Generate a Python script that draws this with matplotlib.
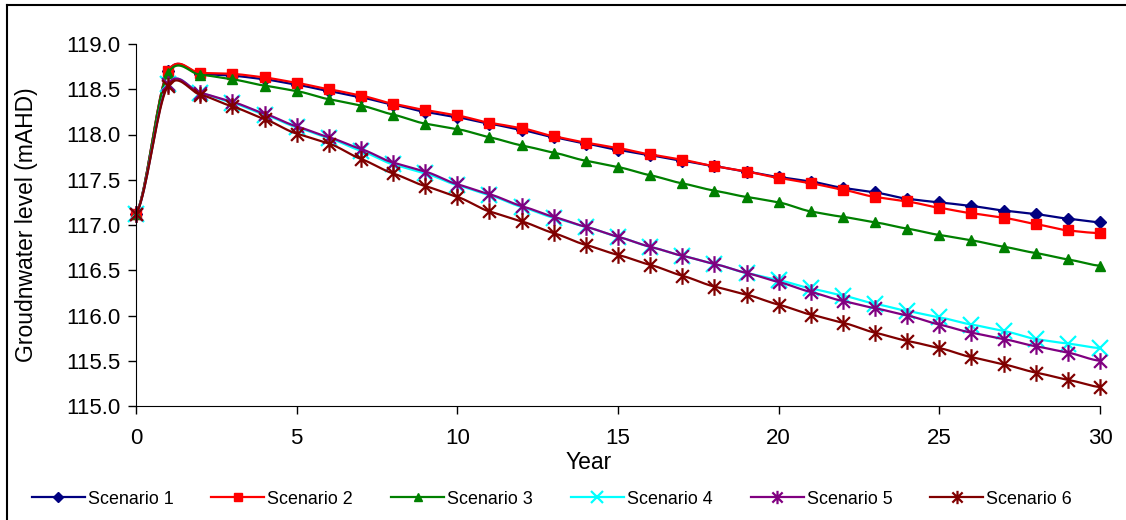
import matplotlib
matplotlib.use('Agg')
import matplotlib.pyplot as plt
import numpy as np
from matplotlib.path import Path
from matplotlib.lines import Line2D

plt.rcParams['font.family'] = ['Liberation Sans', 'DejaVu Sans']

years = list(range(0, 31))

scen1 = [117.12, 118.70, 118.67, 118.65, 118.61, 118.55, 118.48, 118.41, 118.33, 118.25, 118.19,
         118.12, 118.05, 117.97, 117.90, 117.83, 117.77, 117.71, 117.65, 117.59, 117.53,
         117.48, 117.41, 117.36, 117.29, 117.25, 117.21, 117.16, 117.12, 117.07, 117.03]
scen2 = [117.12, 118.70, 118.68, 118.67, 118.63, 118.57, 118.50, 118.43, 118.34, 118.27, 118.21,
         118.13, 118.07, 117.98, 117.91, 117.85, 117.78, 117.72, 117.65, 117.59, 117.52,
         117.46, 117.39, 117.31, 117.26, 117.19, 117.13, 117.08, 117.01, 116.94, 116.91]
scen3 = [117.12, 118.68, 118.66, 118.61, 118.54, 118.48, 118.39, 118.32, 118.22, 118.12, 118.06,
         117.97, 117.88, 117.80, 117.71, 117.64, 117.55, 117.46, 117.38, 117.31, 117.25,
         117.15, 117.09, 117.03, 116.96, 116.89, 116.83, 116.76, 116.69, 116.62, 116.55]
scen4 = [117.12, 118.56, 118.46, 118.35, 118.22, 118.08, 117.96, 117.82, 117.67, 117.57, 117.44,
         117.33, 117.20, 117.08, 116.98, 116.87, 116.76, 116.66, 116.57, 116.47, 116.39,
         116.30, 116.22, 116.13, 116.05, 115.98, 115.90, 115.83, 115.74, 115.69, 115.64]
scen5 = [117.12, 118.56, 118.46, 118.36, 118.23, 118.09, 117.97, 117.84, 117.69, 117.59, 117.45,
         117.34, 117.21, 117.09, 116.98, 116.87, 116.76, 116.66, 116.57, 116.47, 116.37,
         116.26, 116.16, 116.08, 116.00, 115.90, 115.81, 115.74, 115.66, 115.59, 115.50]
scen6 = [117.12, 118.54, 118.44, 118.31, 118.17, 118.01, 117.90, 117.73, 117.57, 117.43, 117.31,
         117.15, 117.04, 116.91, 116.78, 116.67, 116.56, 116.44, 116.32, 116.23, 116.12,
         116.01, 115.92, 115.81, 115.72, 115.64, 115.54, 115.46, 115.37, 115.29, 115.21]

labels = ['Scenario 1', 'Scenario 2', 'Scenario 3', 'Scenario 4', 'Scenario 5', 'Scenario 6']
colors = ['#000080', '#FF0000', '#008000', '#00FFFF', '#800080', '#800000']

# excel style star: an x with a vertical bar through it
star = Path([(-1, -1), (1, 1), (-1, 1), (1, -1), (0, -1.3), (0, 1.3)],
            [Path.MOVETO, Path.LINETO, Path.MOVETO, Path.LINETO, Path.MOVETO, Path.LINETO])
markers = ['D', 's', '^', 'x', star, star]
msizes = [6, 6.5, 7.5, 11, 12, 12]

N = 20  # samples per segment for the smoothed line


def smooth(x, y, n=N):
    # catmull-rom like excel's "smoothed line"
    x = np.asarray(x, float)
    y = np.asarray(y, float)
    xs, ys = [], []
    for i in range(len(x) - 1):
        p0 = y[i - 1] if i > 0 else y[i]
        p3 = y[i + 2] if i + 2 < len(y) else y[i + 1]
        m1 = (y[i + 1] - p0) / 2 * 0.75
        m2 = (p3 - y[i]) / 2 * 0.75
        t = np.linspace(0, 1, n, endpoint=False)
        h00 = 2 * t**3 - 3 * t**2 + 1
        h10 = t**3 - 2 * t**2 + t
        h01 = -2 * t**3 + 3 * t**2
        h11 = t**3 - t**2
        xs.extend(x[i] + t * (x[i + 1] - x[i]))
        ys.extend(h00 * y[i] + h10 * m1 + h01 * y[i + 1] + h11 * m2)
    xs.append(x[-1])
    ys.append(y[-1])
    return np.array(xs), np.array(ys)


fig = plt.figure(figsize=(11.26, 5.2), dpi=100)
ax = fig.add_axes([136 / 1126, 1 - 406 / 520, 964 / 1126, 362 / 520])

series = [scen1, scen2, scen3, scen4, scen5, scen6]
for s, lab, c, m, ms in zip(series, labels, colors, markers, msizes):
    xs, ys = smooth(years, s)
    line_only = m in ('x',) or m is star
    ax.plot(xs, ys, color=c, lw=1.6, marker=m, markevery=N, ms=ms,
            markerfacecolor=('none' if line_only else c), markeredgecolor=c,
            markeredgewidth=(1.6 if line_only else 1), label=lab, clip_on=False)

ax.set_xlim(0, 30)
ax.set_ylim(115, 119)
ax.set_xticks(range(0, 31, 5))
ax.set_yticks(np.arange(115, 119.01, 0.5))
ax.set_yticklabels([f'{v:.1f}' for v in np.arange(115, 119.01, 0.5)])
ax.spines['top'].set_visible(False)
ax.spines['right'].set_visible(False)
ax.tick_params(direction='out', length=6, width=1, labelsize=16, pad=5)
ax.tick_params(axis='x', pad=10)
ax.set_xlabel('Year', fontsize=16.5)
ax.xaxis.set_label_coords(0.47, -0.125)
ax.set_ylabel('Groudnwater level (mAHD)', fontsize=16.5)
ax.yaxis.set_label_coords(-0.102, 0.5)

fig.legend(loc='center', bbox_to_anchor=(0.490, 0.04), ncol=6, frameon=False,
           fontsize=12.9, handlelength=2.96, handletextpad=0.17, columnspacing=2.12,
           markerscale=0.8)

# chart border (only top and left edges are in the crop)
fig.add_artist(Line2D([7 / 1126, 7 / 1126], [0, 1 - 5 / 520], transform=fig.transFigure,
                      color='black', lw=1.5))
fig.add_artist(Line2D([7 / 1126, 1], [1 - 5 / 520, 1 - 5 / 520], transform=fig.transFigure,
                      color='black', lw=1.5))

plt.savefig('out.png', dpi=100)
